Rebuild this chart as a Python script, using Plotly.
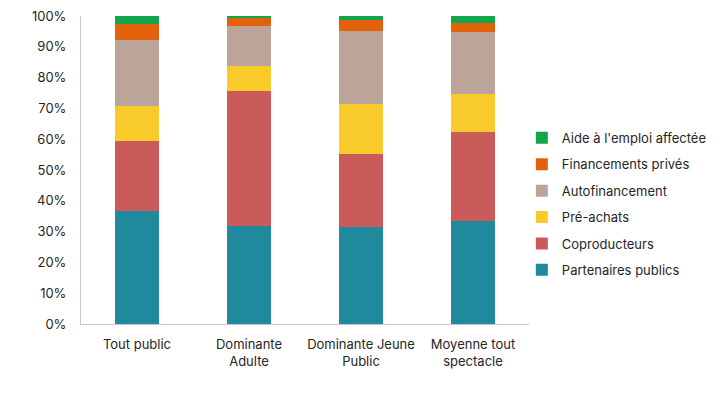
import plotly.graph_objects as go

categories = ["Tout public", "Dominante<br>Adulte", "Dominante Jeune<br>Public", "Moyenne tout<br>spectacle"]
partenaires_publics = [36.7, 31.8, 31.6, 33.3]
coproducteurs = [22.8, 43.9, 23.6, 28.9]
pre_achats = [11.3, 8.2, 16.1, 12.4]
autofinancement = [21.4, 12.9, 23.9, 20.1]
financements_prives = [5.3, 2.4, 3.4, 3.1]
aide_emploi = [2.5, 0.8, 1.4, 2.2]

series = [
    ("Partenaires publics", partenaires_publics, "#1f8a9e"),
    ("Coproducteurs", coproducteurs, "#cb5a5a"),
    ("Pré-achats", pre_achats, "#f9cb2a"),
    ("Autofinancement", autofinancement, "#bba59b"),
    ("Financements privés", financements_prives, "#e2620b"),
    ("Aide à l'emploi affectée", aide_emploi, "#12a54b"),
]

fig = go.Figure()
for i, (name, vals, color) in enumerate(series):
    fig.add_trace(go.Bar(x=categories, y=vals, name=name, legendgroup=name,
                         legendrank=len(series) - i,
                         marker=dict(color=color, line=dict(width=0))))

font = "Inter, Open Sans, sans-serif"
fig.update_layout(
    barmode="stack",
    bargap=0.61,
    width=714, height=402,
    margin=dict(l=73, r=193, t=8, b=86, autoexpand=False),
    paper_bgcolor="white",
    plot_bgcolor="white",
    font=dict(family=font, size=13, color="#262626"),
    legend=dict(traceorder="grouped", x=0.984, xanchor="left", y=0.39, yanchor="middle",
                font=dict(size=13, color="#262626"), itemwidth=30, tracegroupgap=6.5,
                bgcolor="rgba(0,0,0,0)"),
    showlegend=True,
)
fig.update_yaxes(range=[0, 100], tickvals=list(range(0, 101, 10)),
                 ticktext=[f"{v}%" for v in range(0, 101, 10)],
                 showgrid=False, showline=True, linecolor="#c8c8c8", linewidth=1,
                 ticks="outside", ticklen=11, tickcolor="rgba(0,0,0,0)",
                 ticklabeloverflow="allow", automargin=False,
                 zeroline=False, tickfont=dict(size=13))
fig.update_xaxes(showgrid=False, showline=True, linecolor="#c8c8c8", linewidth=1,
                 ticks="outside", ticklen=8, tickcolor="rgba(0,0,0,0)",
                 automargin=False, tickfont=dict(size=13))
fig.write_html("out.html")
